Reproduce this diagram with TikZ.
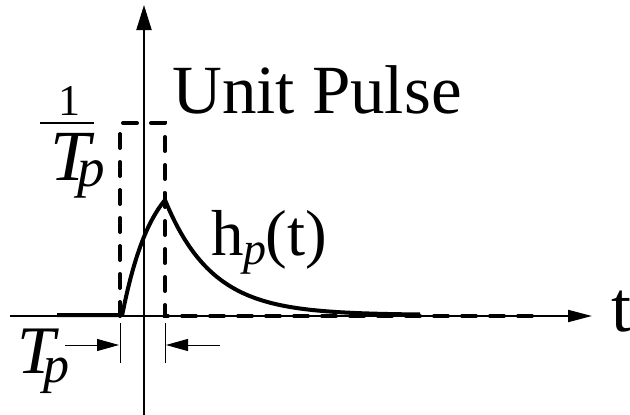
\documentclass[tikz,border=0pt]{standalone}
\usepackage{fontspec}
\setmainfont{Liberation Serif}
\newfontfamily\tms{Liberation Serif}
\usetikzlibrary{arrows.meta}
\begin{document}
\begin{tikzpicture}[x=1pt,y=-1pt,
  axis/.style={line width=2pt},
  pulse/.style={line width=4pt,dash pattern=on 14pt off 14pt,line cap=round},
  resp/.style={line width=4pt,line join=miter},
  dimline/.style={line width=1pt},
  lbl/.style={inner sep=0pt,anchor=base west,font=\tms}]
\useasboundingbox (0,0) rectangle (630,415);
% axes
\coordinate (ybot) at (144,415);
\coordinate (ytop) at (144,5);
\coordinate (xl) at (10,316);
\coordinate (xr) at (592,316);
\draw[axis,-{Triangle[length=25pt,width=15pt]}] (ybot) -- (ytop);
\draw[axis,-{Triangle[length=24pt,width=12pt]}] (xl) -- (xr);
% unit pulse (dashed)
\coordinate (p0) at (120,316);
\coordinate (p1) at (120,123);
\coordinate (p2) at (165,123);
\coordinate (p3) at (165,316);
\coordinate (p4) at (540,316);
\draw[pulse] (p0) -- (p1) -- (p2) -- (p3) -- (p4);
% response h_p(t)
\coordinate (h0) at (57,315);
\coordinate (h1) at (122,315);
\draw[resp] (h0) -- (h1)
  -- plot[domain=122:165,samples=40] (\x,{316-152.33*(1-exp(-(\x-122)/30))})
  -- plot[domain=165:420,samples=80] (\x,{315-115*exp(-(\x-165)/47)});
% dimension marks
\coordinate (t1a) at (120,323);
\coordinate (t1b) at (120,363);
\coordinate (t2a) at (165,323);
\coordinate (t2b) at (165,363);
\draw[dimline] (t1a) -- (t1b);
\draw[dimline] (t2a) -- (t2b);
\coordinate (a1s) at (65,345);
\coordinate (a1e) at (119,345);
\coordinate (a2s) at (220,345);
\coordinate (a2e) at (166,345);
\draw[dimline,-{Triangle[length=22pt,width=12pt]}] (a1s) -- (a1e);
\draw[dimline,-{Triangle[length=22pt,width=12pt]}] (a2s) -- (a2e);
% fraction 1/T_p
\node[inner sep=0pt,anchor=base,font=\tms] (one) at (69,115) {\fontsize{44}{44}\selectfont 1};
\coordinate (bl) at (40,123);
\coordinate (br) at (94,123);
\draw[line width=2pt] (bl) -- (br);
\node[lbl] (T1) at (50,180) {\fontsize{72}{72}\selectfont\itshape T};
\node[lbl] (P1) at (77,186) {\fontsize{55}{55}\selectfont\itshape p};
% bottom T_p
\node[lbl] (T2) at (17,373) {\fontsize{68}{68}\selectfont\itshape T};
\node[lbl] (P2) at (43,382) {\fontsize{52}{52}\selectfont\itshape p};
% labels
\node[lbl] (up) at (172,113) {\fontsize{69}{69}\selectfont Unit Pulse};
\node[lbl] (hp) at (211,255) {\fontsize{65}{65}\selectfont h\raisebox{-9pt}{\fontsize{46}{46}\selectfont\itshape p}\kern-1pt(t)};
\node[lbl] (tl) at (611,331) {\fontsize{72}{72}\selectfont t};
\end{tikzpicture}
\end{document}
